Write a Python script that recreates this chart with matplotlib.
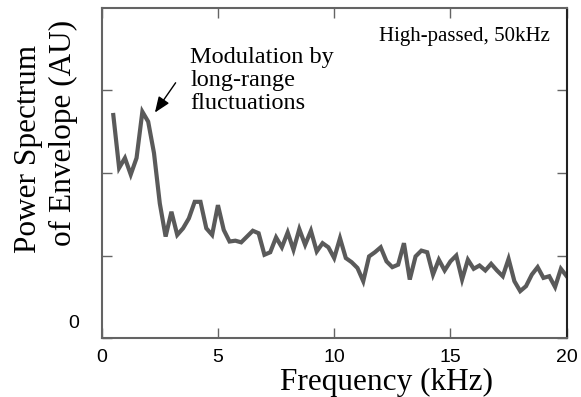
import matplotlib.pyplot as plt
import matplotlib.transforms as mtransforms
import numpy as np

# envelope power spectrum, sampled every 0.25 kHz from 0.5 to 20 kHz
freq_khz = np.arange(0.5, 20.001, 0.25)
power = [
    2.70, 2.06, 2.18, 1.98, 2.18, 2.74, 2.62, 2.24, 1.63, 1.23,
    1.53, 1.25, 1.33, 1.45, 1.65, 1.65, 1.33, 1.25, 1.61, 1.31,
    1.17, 1.18, 1.16, 1.23, 1.30, 1.27, 1.01, 1.04, 1.22, 1.10,
    1.28, 1.07, 1.32, 1.13, 1.30, 1.05, 1.15, 1.10, 0.97, 1.21,
    0.97, 0.92, 0.85, 0.69, 0.99, 1.04, 1.10, 0.93, 0.86, 0.89,
    1.15, 0.71, 0.99, 1.06, 1.04, 0.77, 0.95, 0.82, 0.93, 1.00,
    0.71, 0.95, 0.84, 0.88, 0.82, 0.90, 0.82, 0.75, 0.96, 0.69,
    0.57, 0.63, 0.77, 0.86, 0.73, 0.75, 0.62, 0.84, 0.75,
]
xticks = [0, 5, 10, 15, 20]
yticks = [0, 1, 2, 3]

serif = 'Liberation Serif'
sans = 'Liberation Sans'
grey = '#646464'

fig = plt.figure(figsize=(5.81, 3.97), dpi=100)
ax = fig.add_axes([0.175, 0.148, 0.8004, 0.833])

ax.plot(freq_khz, power, color='#5a5a5a', lw=3.0, solid_joinstyle='miter')

ax.set_xlim(0, 20)
ax.set_ylim(0, 4)
ax.set_xticks(xticks)
ax.set_yticks(yticks)
ax.set_xticklabels([str(t) for t in xticks], family=sans, fontsize=14)
ax.set_yticklabels(['0', '', '', ''], family=sans, fontsize=14)

for side in ['left', 'bottom', 'top']:
    ax.spines[side].set_color(grey)
    ax.spines[side].set_linewidth(1.5)
ax.spines['right'].set_color('#222222')
ax.spines['right'].set_linewidth(1.5)

ax.tick_params(axis='both', direction='in', length=7.5, width=1.0,
               color=grey, top=True, right=True)
ax.tick_params(axis='x', pad=8)
ax.tick_params(axis='y', pad=16)

# lift the lone "0" label above the baseline
shift = mtransforms.ScaledTranslation(0, 6 / 100, fig.dpi_scale_trans)
for lab in ax.get_yticklabels():
    lab.set_verticalalignment('bottom')
    lab.set_transform(lab.get_transform() + shift)

ax.text(3.80, 3.52, 'Modulation by\nlong-range\nfluctuations', family=serif,
        fontsize=17.5, va='top', ha='left', linespacing=1.12)
ax.annotate('', xy=(2.29, 2.73), xytext=(3.18, 3.09),
            arrowprops=dict(arrowstyle='-|>,head_length=0.95,head_width=0.38',
                            color='black', lw=1.0, shrinkA=0, shrinkB=0,
                            mutation_scale=10))
ax.text(0.964, 0.899, 'High-passed, 50kHz', transform=ax.transAxes,
        family=serif, fontsize=15, ha='right', va='baseline')

fig.text(0.666, 0.0176, 'Frequency (kHz)', family=serif, fontsize=22.5,
         ha='center', va='baseline')
fig.text(0.0499, 0.6247, 'Power Spectrum', family=serif, fontsize=22.5,
         rotation=90, ha='center', va='center')
fig.text(0.110, 0.665, 'of Envelope (AU)', family=serif, fontsize=22.5,
         rotation=90, ha='center', va='center')

fig.savefig('out.png', dpi=100)
